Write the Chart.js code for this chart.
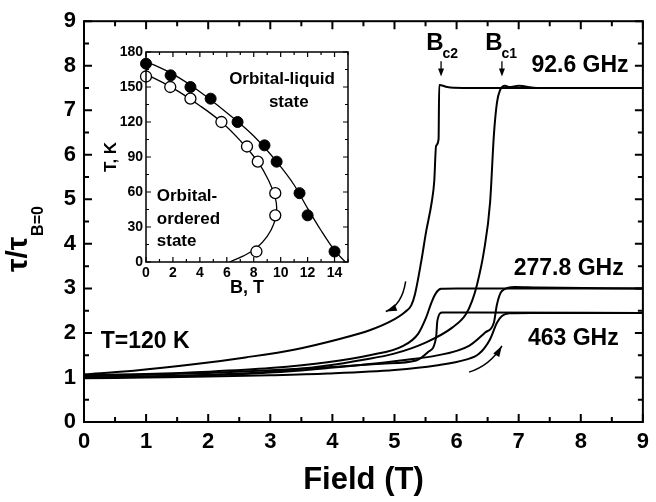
<!DOCTYPE html>
<html>
<head>
<meta charset="UTF-8">
<title>Relaxation time vs field</title>
<script src="https://cdn.jsdelivr.net/npm/chart.js@4.4.0/dist/chart.umd.min.js"></script>
<style>
  body { margin: 0; background: #fff; }
  #wrap { position: relative; width: 656px; height: 502px; }
  #inset { position: absolute; left: 96px; top: 40px; }
</style>
</head>
<body>
<div id="wrap">
  <canvas id="chartMain" width="656" height="502"></canvas>
  <canvas id="inset" width="260" height="262"></canvas>
</div>
<script>
const FONT = "'Liberation Sans', Arial, Helvetica, sans-serif";

// main panel: [field (T), tau/tau(B=0)]
const up926 = [[0,1.0],[1,1.02],[2,1.06],[3,1.13],[3.92,1.27],[4.5,1.4],[4.98,1.53],[5.51,1.79],[5.93,2.12],[6.15,2.42],[6.25,2.72],[6.33,3.09],[6.44,3.83],[6.54,4.94],[6.6,6.43],[6.65,7.17],[6.7,7.45],[6.78,7.55],[6.85,7.52],[7.0,7.55],[7.3,7.5],[9,7.5]];
const down926 = [[0,1.07],[0.8,1.15],[1.8,1.3],[2.6,1.45],[3.4,1.63],[4.1,1.86],[4.6,2.06],[4.95,2.27],[5.16,2.46],[5.27,2.62],[5.33,2.87],[5.43,3.6],[5.51,4.28],[5.6,4.94],[5.64,5.4],[5.67,6.2],[5.71,6.35],[5.72,7.57],[5.85,7.52],[6.1,7.5],[9,7.5]];
const up2778 = [[0,1.0],[1,1.02],[2,1.05],[3,1.11],[3.92,1.21],[4.6,1.3],[5.2,1.4],[5.67,1.49],[6.2,1.71],[6.46,2.01],[6.6,2.23],[6.65,2.64],[6.73,2.94],[6.94,3.03],[7.3,3.02],[9,3.0]];
const down2778 = [[0,1.05],[1,1.08],[2,1.13],[3,1.21],[3.92,1.34],[4.6,1.5],[5.14,1.71],[5.38,1.98],[5.51,2.35],[5.6,2.7],[5.67,2.9],[5.75,2.99],[6,3.0],[9,3.0]];
const up463 = [[0,0.98],[1,1.0],[2,1.02],[3,1.05],[3.92,1.09],[5,1.17],[5.67,1.27],[6.15,1.4],[6.36,1.53],[6.54,1.86],[6.65,2.23],[6.73,2.38],[6.85,2.44],[7.2,2.45],[9,2.45]];
const down463 = [[0,1.03],[1,1.06],[2,1.1],[3,1.16],[3.92,1.23],[4.8,1.31],[5.35,1.38],[5.54,1.57],[5.67,1.9],[5.69,2.27],[5.77,2.46],[6.2,2.46],[9,2.45]];

const fieldTicks = [0,1,2,3,4,5,6,7,8,9];
const fieldMinor = [0.5,1.5,2.5,3.5,4.5,5.5,6.5,7.5,8.5];
const ratioTicks = [0,1,2,3,4,5,6,7,8,9];
const ratioMinor = [0.5,1.5,2.5,3.5,4.5,5.5,6.5,7.5,8.5];

// labels on the main panel, in data units
const freqLabels = [
  {text: '92.6 GHz', x: 8.77, y: 8.0},
  {text: '277.8 GHz', x: 8.69, y: 3.45},
  {text: '463 GHz', x: 8.61, y: 1.87}
];
const tempLabel = {text: 'T=120 K', x: 0.27, y: 1.8};
const criticalMarks = [
  {sub: 'c2', x: 5.51, arrowX: 5.75},
  {sub: 'c1', x: 6.46, arrowX: 6.73}
];
const sweepArrows = [
  {from: [5.18, 3.16], ctrl: [5.12, 2.62], to: [4.86, 2.48]},
  {from: [6.2, 1.12], ctrl: [6.54, 1.27], to: [6.73, 1.71]}
];

// inset: phase diagram, [B (T), T (K)]
const liquidB = [0, 1.83, 3.3, 4.8, 6.8, 8.8, 9.7, 11.4, 12.0, 14.0];
const liquidT = [170, 160, 150, 140, 120, 100, 86, 59, 40, 9];
const orderedB = [0, 1.8, 3.3, 5.6, 7.5, 8.3, 9.6, 9.6, 8.2];
const orderedT = [159, 150, 140, 120, 99, 86, 59, 40, 9];
const liquidFitB = [0, 2, 4, 6, 8, 9.7, 11, 12, 13, 14, 14.8];
const liquidFitT = [172, 161, 146, 128, 108, 86, 66, 46, 27, 10, 0];
const orderedFitB = [0, 2, 4, 5.6, 7, 8.3, 9.1, 9.6, 9.7, 9.5, 9.0, 8.2, 7.2, 6.2];
const orderedFitT = [161, 149, 134, 120, 104, 86, 70, 55, 45, 33, 22, 12, 5, 0];

const bTicks = [0,2,4,6,8,10,12,14];
const bMinor = [1,3,5,7,9,11,13,15];
const tTicks = [0,30,60,90,120,150,180];
const tMinor = [15,45,75,105,135,165];

function pts(pairs) { return pairs.map(p => ({x: p[0], y: p[1]})); }
function zip(xs, ys) { return xs.map((v, i) => ({x: v, y: ys[i]})); }

function boxTicks(ctx, a, xs, ys, t, majLen, minLen) {
  ctx.beginPath();
  const xl = (v, len) => {
    const p = xs.getPixelForValue(v);
    ctx.moveTo(p, a.bottom); ctx.lineTo(p, a.bottom - len);
    ctx.moveTo(p, a.top); ctx.lineTo(p, a.top + len);
  };
  const yl = (v, len) => {
    const p = ys.getPixelForValue(v);
    ctx.moveTo(a.left, p); ctx.lineTo(a.left + len, p);
    ctx.moveTo(a.right, p); ctx.lineTo(a.right - len, p);
  };
  t.xMajor.forEach(v => xl(v, majLen));
  t.xMinor.forEach(v => xl(v, minLen));
  t.yMajor.forEach(v => yl(v, majLen));
  t.yMinor.forEach(v => yl(v, minLen));
  ctx.stroke();
}

function arrowHead(ctx, x, y, ang, len, half) {
  ctx.beginPath();
  ctx.moveTo(x, y);
  ctx.lineTo(x - len * Math.cos(ang) + half * Math.sin(ang), y - len * Math.sin(ang) - half * Math.cos(ang));
  ctx.lineTo(x - len * Math.cos(ang) - half * Math.sin(ang), y - len * Math.sin(ang) + half * Math.cos(ang));
  ctx.closePath();
  ctx.fill();
}

const mainDecor = {
  id: 'mainDecor',
  afterDatasetsDraw(chart) {
    const {ctx, chartArea: a, scales: {x, y}} = chart;
    ctx.save();
    ctx.strokeStyle = '#000';
    ctx.fillStyle = '#000';
    ctx.lineWidth = 2;
    ctx.strokeRect(a.left, a.top, a.right - a.left, a.bottom - a.top);
    boxTicks(ctx, a, x, y, {xMajor: fieldTicks, xMinor: fieldMinor, yMajor: ratioTicks, yMinor: ratioMinor}, 8, 5);

    ctx.font = 'bold 23px ' + FONT;
    ctx.textBaseline = 'middle';
    ctx.textAlign = 'right';
    for (const l of freqLabels) ctx.fillText(l.text, x.getPixelForValue(l.x), y.getPixelForValue(l.y));
    ctx.textAlign = 'left';
    ctx.fillText(tempLabel.text, x.getPixelForValue(tempLabel.x), y.getPixelForValue(tempLabel.y));

    // B_c2 / B_c1 with small down arrows
    ctx.textBaseline = 'alphabetic';
    const by = y.getPixelForValue(8.35);
    for (const m of criticalMarks) {
      const bx = x.getPixelForValue(m.x);
      ctx.font = 'bold 24px ' + FONT;
      ctx.fillText('B', bx, by);
      const w = ctx.measureText('B').width;
      ctx.font = 'bold 14px ' + FONT;
      ctx.fillText(m.sub, bx + w - 1, by + 8);
      const ax = x.getPixelForValue(m.arrowX);
      ctx.lineWidth = 1.3;
      ctx.beginPath();
      ctx.moveTo(ax, y.getPixelForValue(8.1));
      ctx.lineTo(ax, y.getPixelForValue(7.82));
      ctx.stroke();
      arrowHead(ctx, ax, y.getPixelForValue(7.76), Math.PI / 2, 8, 3);
    }

    // sweep direction arrows
    ctx.lineWidth = 1.5;
    for (const s of sweepArrows) {
      const fx = x.getPixelForValue(s.from[0]), fy = y.getPixelForValue(s.from[1]);
      const cx = x.getPixelForValue(s.ctrl[0]), cy = y.getPixelForValue(s.ctrl[1]);
      const tx = x.getPixelForValue(s.to[0]), ty = y.getPixelForValue(s.to[1]);
      ctx.beginPath();
      ctx.moveTo(fx, fy);
      ctx.quadraticCurveTo(cx, cy, tx, ty);
      ctx.stroke();
      arrowHead(ctx, tx, ty, Math.atan2(ty - cy, tx - cx), 11, 3.5);
    }

    // y title with subscript
    ctx.translate(27, 272);
    ctx.rotate(-Math.PI / 2);
    ctx.textAlign = 'left';
    ctx.font = 'bold 30px ' + FONT;
    ctx.fillText('τ/τ', 0, 0);
    const tw = ctx.measureText('τ/τ').width;
    ctx.font = 'bold 16px ' + FONT;
    ctx.fillText('B=0', tw + 1, 16);
    ctx.restore();
  }
};

const insetDecor = {
  id: 'insetDecor',
  afterDatasetsDraw(chart) {
    const {ctx, chartArea: a, scales: {x, y}} = chart;
    ctx.save();
    ctx.strokeStyle = '#000';
    ctx.fillStyle = '#000';
    ctx.lineWidth = 1.5;
    ctx.strokeRect(a.left, a.top, a.right - a.left, a.bottom - a.top);
    ctx.lineWidth = 1.2;
    boxTicks(ctx, a, x, y, {xMajor: bTicks, xMinor: bMinor, yMajor: tTicks, yMinor: tMinor}, 5, 3);
    ctx.font = 'bold 17px ' + FONT;
    ctx.textBaseline = 'middle';
    ctx.textAlign = 'center';
    ctx.fillText('Orbital-liquid', x.getPixelForValue(10.1), y.getPixelForValue(157));
    ctx.fillText('state', x.getPixelForValue(10.6), y.getPixelForValue(137));
    ctx.textAlign = 'left';
    ctx.fillText('Orbital-', x.getPixelForValue(0.8), y.getPixelForValue(56));
    ctx.fillText('ordered', x.getPixelForValue(0.8), y.getPixelForValue(37));
    ctx.fillText('state', x.getPixelForValue(0.8), y.getPixelForValue(18));
    ctx.restore();
  }
};

const curve = d => ({data: pts(d), borderColor: '#000', borderWidth: 2, pointRadius: 0, cubicInterpolationMode: 'monotone', fill: false});

new Chart(document.getElementById('chartMain'), {
  type: 'line',
  data: {datasets: [curve(up926), curve(down926), curve(up2778), curve(down2778), curve(up463), curve(down463)]},
  options: {
    responsive: false,
    animation: false,
    layout: {padding: {top: 18, right: 7, left: 0, bottom: 0}},
    plugins: {legend: {display: false}, tooltip: {enabled: false}},
    scales: {
      x: {
        type: 'linear', min: 0, max: 9,
        afterBuildTicks: s => { s.ticks = fieldTicks.map(v => ({value: v})); },
        ticks: {font: {family: FONT, size: 22, weight: 'bold'}, color: '#000', padding: 7, maxRotation: 0},
        grid: {display: false, drawTicks: false},
        border: {display: false},
        title: {display: true, text: 'Field (T)', color: '#000', font: {family: FONT, size: 31, weight: 'bold'}, padding: {top: 0, bottom: 3}},
        afterFit: s => { s.height = 80; }
      },
      y: {
        type: 'linear', min: 0, max: 9,
        afterBuildTicks: s => { s.ticks = ratioTicks.map(v => ({value: v})); },
        ticks: {font: {family: FONT, size: 22, weight: 'bold'}, color: '#000', padding: 8},
        grid: {display: false, drawTicks: false},
        border: {display: false},
        afterFit: s => { s.width = 84; }
      }
    }
  },
  plugins: [mainDecor]
});

new Chart(document.getElementById('inset'), {
  type: 'line',
  data: {datasets: [
    {data: zip(liquidFitB, liquidFitT), borderColor: '#000', borderWidth: 1.3, pointRadius: 0, cubicInterpolationMode: 'monotone', order: 2},
    {data: zip(orderedFitB, orderedFitT), borderColor: '#000', borderWidth: 1.3, pointRadius: 0, tension: 0.4, order: 2},
    {data: zip(liquidB, liquidT), showLine: false, pointRadius: 5.5, pointBackgroundColor: '#000', pointBorderColor: '#000', pointBorderWidth: 1, clip: false, order: 1},
    {data: zip(orderedB, orderedT), showLine: false, pointRadius: 5.5, pointBackgroundColor: '#fff', pointBorderColor: '#000', pointBorderWidth: 1.3, clip: false, order: 1}
  ]},
  options: {
    responsive: false,
    animation: false,
    layout: {padding: {top: 12, right: 8, left: 0, bottom: 0}},
    plugins: {legend: {display: false}, tooltip: {enabled: false}},
    scales: {
      x: {
        type: 'linear', min: 0, max: 15,
        afterBuildTicks: s => { s.ticks = bTicks.map(v => ({value: v})); },
        ticks: {font: {family: FONT, size: 14, weight: 'bold'}, color: '#000', padding: 3, maxRotation: 0},
        grid: {display: false, drawTicks: false},
        border: {display: false},
        title: {display: true, text: 'B, T', color: '#000', font: {family: FONT, size: 18, weight: 'bold'}, padding: {top: 0, bottom: 3}},
        afterFit: s => { s.height = 40; }
      },
      y: {
        type: 'linear', min: 0, max: 180,
        afterBuildTicks: s => { s.ticks = tTicks.map(v => ({value: v})); },
        ticks: {font: {family: FONT, size: 14, weight: 'bold'}, color: '#000', padding: 3},
        grid: {display: false, drawTicks: false},
        border: {display: false},
        title: {display: true, text: 'T, K', color: '#000', font: {family: FONT, size: 17, weight: 'bold'}, padding: {top: 5, bottom: 0}},
        afterFit: s => { s.width = 50; }
      }
    }
  },
  plugins: [insetDecor]
});
</script>
</body>
</html>
